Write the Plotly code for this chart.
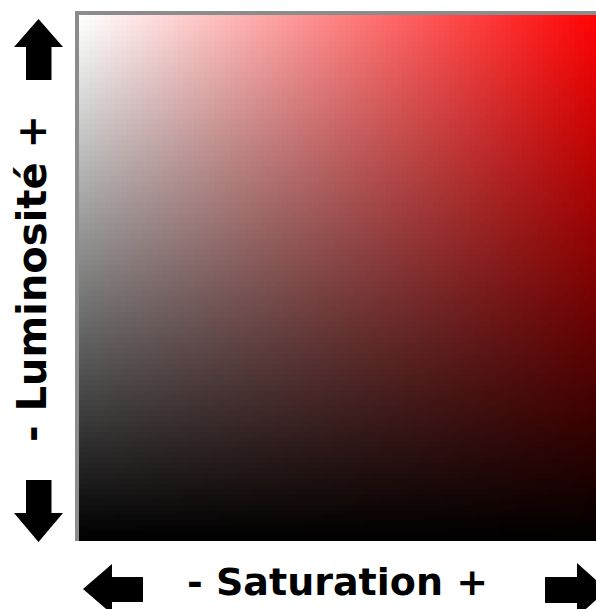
import numpy as np
import plotly.graph_objects as go

# Colour square for hue 0 (red): saturation along x, luminosity (value) along y
HUE = 0
saturation = list(range(0, 101))   # %
luminosity = list(range(0, 101))   # %

X_LABEL = "- Saturation +"
Y_LABEL = "- Luminosité +"

FONT = "DejaVu Sans"
BORDER = "#8c8c8c"

# page geometry (pixels)
W, H = 596, 609
L, T = 79, 15
B = H - 541
PW, PH = W - L, H - T - B


def hsv_rgb(s, v):
    """HSV -> RGB for the fixed red hue"""
    s = np.asarray(s, dtype=float)[None, :] / 100
    v = np.asarray(v, dtype=float)[:, None] / 100
    r = v * np.ones_like(s)
    g = v * (1 - s)
    b = v * (1 - s)
    return np.round(np.stack([r, g, b], axis=-1) * 255).astype(np.uint8)


def p(x, y):
    """window pixel -> paper coords"""
    return (x - L) / PW, (H - B - y) / PH


def arrow_path(points):
    pts = [p(x, y) for x, y in points]
    return "M " + " L ".join(f"{x:.4f},{y:.4f}" for x, y in pts) + " Z"


fig = go.Figure()
fig.add_trace(go.Image(
    z=hsv_rgb(saturation, luminosity),
    x0=saturation[0], dx=saturation[1] - saturation[0],
    y0=luminosity[0], dy=luminosity[1] - luminosity[0],
    zsmooth="fast",
    hoverinfo="skip",
))

arrows = [
    [(38.5, 19), (63, 47), (51.5, 47), (51.5, 80), (26, 80), (26, 47), (14, 47)],
    [(38.5, 542), (63, 513), (51.5, 513), (51.5, 480), (26, 480), (26, 513), (14, 513)],
    [(83, 589), (112, 564), (112, 577), (143, 577), (143, 602), (112, 602), (112, 614)],
    [(607, 590), (577, 563), (577, 577), (545, 577), (545, 603), (577, 603), (577, 617)],
]
for a in arrows:
    fig.add_shape(type="path", xref="paper", yref="paper", path=arrow_path(a),
                  fillcolor="black", line=dict(width=0))

sx, sy = p(337, 582)
fig.add_annotation(text=X_LABEL, xref="paper", yref="paper", x=sx, y=sy,
                   xanchor="center", yanchor="middle", showarrow=False,
                   font=dict(family=FONT, size=38, weight="bold", color="black"))
lx, ly = p(32, 279)
fig.add_annotation(text=Y_LABEL, xref="paper", yref="paper", x=lx, y=ly,
                   xanchor="center", yanchor="middle", showarrow=False, textangle=-90,
                   font=dict(family=FONT, size=40, weight="bold", color="black"))

span = luminosity[-1] - luminosity[0] + 1
fig.update_layout(
    width=W, height=H,
    margin=dict(l=L, r=0, t=T, b=B),
    paper_bgcolor="white", plot_bgcolor="white",
    xaxis=dict(range=[-0.5, -0.5 + span * PW / PH], side="top", showline=True,
               linecolor=BORDER, linewidth=4, showticklabels=False, ticks="",
               showgrid=False, zeroline=False),
    yaxis=dict(range=[-0.5, luminosity[-1] + 0.5], autorange=False, showline=True,
               linecolor=BORDER, linewidth=4, showticklabels=False, ticks="",
               showgrid=False, zeroline=False),
    showlegend=False,
)

# drop the default page margin so the figure sits flush with the window
fig.write_html("out.html", config={"displayModeBar": False},
               post_script="document.body.style.margin='0';"
                           "document.body.style.overflow='hidden';")
